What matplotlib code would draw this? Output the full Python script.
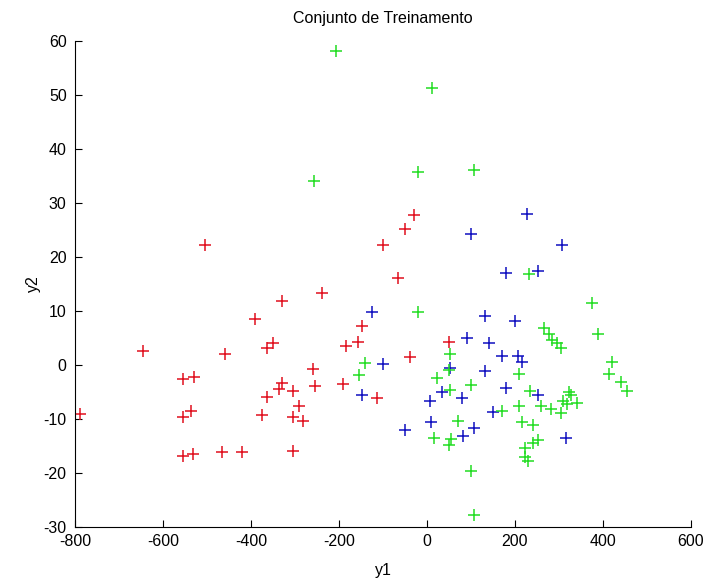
import numpy as np
import matplotlib
matplotlib.use('Agg')
from matplotlib import pyplot as plt

# class 1 (red)
red_y1 = [-788, -646, -555, -530, -555, -537, -555, -531, -504, -460, -465, -420,
          -391, -376, -364, -364, -351, -336, -330, -330, -305, -305, -304, -292,
          -281, -258, -254, -239, -192, -184, -156, -148, -114, -101, -65, -49,
          -29, -39, 51]
red_y2 = [-9.1, 2.6, -2.6, -2.2, -9.7, -8.5, -16.9, -16.4, 22.3, 2.0, -16.1, -16.1,
          8.6, -9.3, -6.0, 3.1, 4.1, -4.5, -3.4, 11.9, -4.8, -9.7, -15.9, -7.6,
          -10.3, -0.7, -3.8, 13.4, -3.5, 3.6, 4.2, 7.2, -6.1, 22.3, 16.2, 25.2,
          27.7, 1.5, 4.2]

# class 2 (blue)
blue_y1 = [-124, -148, -101, -49, 7, 9, 35, 53, 80, 81, 90, 100, 107, 132, 132,
           142, 151, 170, 180, 180, 199, 207, 216, 228, 252, 253, 306, 317]
blue_y2 = [9.75, -5.55, 0.2, -12.0, -6.6, -10.6, -5.0, -0.5, -6.1, -13.1, 5.0, 24.3,
           -11.6, 9.0, -1.05, 4.0, -8.7, 1.6, -4.2, 17.0, 8.15, 1.6, 0.5, 27.9,
           17.4, -5.6, 22.3, -13.5]

# class 3 (green)
green_y1 = [-207, -256, 12, -20, 107, 231, -20, -140, -155, 52, 50, 22, 99, 52,
            210, 234, 375, 388, 266, 278, 284, 295, 304, 420, 414, 442, 454, 322,
            328, 310, 318, 340, 304, 282, 258, 210, 170, 215, 242, 71, 15, 55, 51,
            253, 242, 223, 222, 229, 100, 107]
green_y2 = [58.1, 34.1, 51.2, 35.7, 36.2, 16.8, 9.75, 0.4, -1.85, 2.0, -1.0, -2.4,
            -3.7, -4.7, -1.6, -4.8, 11.5, 5.8, 6.8, 5.8, 4.6, 4.0, 3.1, 0.5, -1.7,
            -3.1, -4.75, -5.0, -5.5, -6.6, -7.3, -7.1, -8.9, -8.1, -7.6, -7.6, -8.5,
            -10.5, -11.1, -10.3, -13.5, -13.7, -14.8, -13.9, -14.5, -15.4, -17.1,
            -17.7, -19.6, -27.7]

plt.rcParams['font.family'] = ['Liberation Sans', 'DejaVu Sans']
plt.rcParams['axes.unicode_minus'] = False   # plain hyphen like the original

fig = plt.figure(figsize=(7.09, 5.82), dpi=100)
ax = fig.add_axes([0.1058, 0.0945, 0.8688, 0.8351])

ax.plot(red_y1, red_y2, '+', color='#e0101e', markersize=9, markeredgewidth=1.1)
ax.plot(blue_y1, blue_y2, '+', color='#1010c0', markersize=9, markeredgewidth=1.1)
ax.plot(green_y1, green_y2, '+', color='#22dd22', markersize=9, markeredgewidth=1.1)

ax.set_xlim(-800, 600)
ax.set_ylim(-30, 60)
ax.set_xticks(np.arange(-800, 601, 200))
ax.set_yticks(np.arange(-30, 61, 10))
ax.spines['top'].set_visible(False)
ax.spines['right'].set_visible(False)
ax.tick_params(direction='in', length=5, labelsize=11.5)
ax.tick_params(axis='x', pad=5)
ax.tick_params(axis='y', pad=6)

ax.set_title('Conjunto de Treinamento', fontsize=11.5, pad=13)
ax.set_xlabel('y1', fontsize=11.5, labelpad=10)
ax.set_ylabel('y2', fontsize=11.5, labelpad=2)

plt.savefig('out.png', dpi=100)
